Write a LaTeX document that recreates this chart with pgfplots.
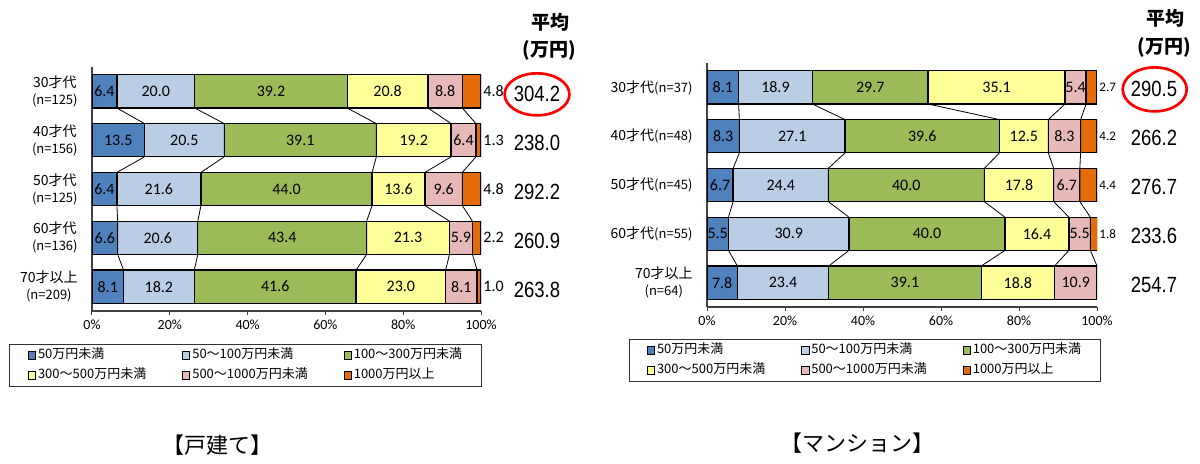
\documentclass[border=0pt]{standalone}
\usepackage{pgfplots}
\pgfplotsset{compat=1.18}
\usepackage{pgfplotstable}
\usepackage{fontspec}
\setmainfont{Carlito}
\newfontfamily\jp{Noto Sans CJK JP}
\newfontfamily\num[FakeStretch=0.84]{Liberation Sans}
\definecolor{c1}{RGB}{79,129,189}
\definecolor{c2}{RGB}{185,205,229}
\definecolor{c3}{RGB}{155,187,89}
\definecolor{c4}{RGB}{255,255,153}
\definecolor{c5}{RGB}{230,185,184}
\definecolor{c6}{RGB}{228,108,10}
\newcommand\nsz{\fontsize{6.5}{8.5}\selectfont}

% 戸建て
\pgfplotstableread{
row a b c d e f
4 6.4 20.0 39.2 20.8 8.8 4.8
3 13.5 20.5 39.1 19.2 6.4 1.3
2 6.4 21.6 44.0 13.6 9.6 4.8
1 6.6 20.6 43.4 21.3 5.9 2.2
0 8.1 18.2 41.6 23.0 8.1 1.0
}\houseData
% マンション
\pgfplotstableread{
row a b c d e f
4 8.1 18.9 29.7 35.1 5.4 2.7
3 8.3 27.1 39.6 12.5 8.3 4.2
2 6.7 24.4 40.0 17.8 6.7 4.4
1 5.5 30.9 40.0 16.4 5.5 1.8
0 7.8 23.4 39.1 18.8 10.9 0.0
}\mansionData

\pgfplotsset{
  /pgf/number format/assume math mode=true,
  seg/.style={fill=#1, draw=black, line width=0.65pt},
  base/.style={scale only axis, anchor=south west, xmin=0, xmax=100, ymin=-0.5, ymax=4.5,
     enlargelimits=false},
  barax/.style={base, xbar stacked, bar width=0.68,
     axis x line*=bottom, axis y line*=left,
     axis line style={black!75, line width=0.6pt},
     xtick={0,20,40,60,80,100},
     xticklabels={0\%,20\%,40\%,60\%,80\%,100\%},
     tick align=outside, major tick length=2pt,
     xtick style={black!75, line width=0.5pt},
     ytick={0,1,2,3,4}, ytick style={draw=none},
     xticklabel style={font=\fontsize{7}{8}\selectfont, inner sep=1pt, yshift=-1.5pt},
     yticklabel style={font=\jp\fontsize{7}{8.5}\selectfont, align=center, inner sep=0pt, xshift=-5pt},
     legend columns=3, legend cell align=left,
     legend image code/.code={\draw[##1,draw=black,line width=0.4pt] (0pt,-1.8pt) rectangle (3.6pt,1.8pt);},
     legend style={draw=none, fill=none, anchor=north west, inner sep=0pt, outer sep=0pt,
        font=\jp\fontsize{6.5}{7.5}\selectfont,
        nodes={inner xsep=1pt, inner ysep=1.5pt, text height=5pt, text depth=1.5pt},
        /tikz/every even column/.append style={column sep=17pt},
        row sep=0.5pt}},
  over/.style={base, hide axis, clip=false},
  sline/.style={black, line width=0.4pt},
  seglab/.style={draw=none, nodes near coords, point meta=explicit symbolic,
     every node near coord/.style={anchor=center, inner sep=0pt, font=\fontsize{8}{9}\selectfont}},
  outlab/.style={draw=none, nodes near coords, point meta=explicit symbolic,
     every node near coord/.style={anchor=west, inner sep=0pt, xshift=#1}},
  avg/.style={draw=none, nodes near coords, point meta=explicit symbolic,
     every node near coord/.style={anchor=center, inner sep=0pt, font=\num\fontsize{11}{13}\selectfont}}
}

\begin{document}
\begin{tikzpicture}
\useasboundingbox (0,0) rectangle (600pt,231.5pt);

% ---------------- 戸建て ----------------
\begin{axis}[barax, at={(46pt,76pt)}, width=194.5pt, height=122pt,
  yticklabels={{70才以上\\\nsz(n=209)},{60才代\\\nsz(n=136)},{50才代\\\nsz(n=125)},{40才代\\\nsz(n=156)},{30才代\\\nsz(n=125)}},
  legend style={at={(-0.1645,-0.1434)}}]
\addplot[seg=c1] table[x=a,y=row]{\houseData};
\addplot[seg=c2] table[x=b,y=row]{\houseData};
\addplot[seg=c3] table[x=c,y=row]{\houseData};
\addplot[seg=c4] table[x=d,y=row]{\houseData};
\addplot[seg=c5] table[x=e,y=row]{\houseData};
\addplot[seg=c6] table[x=f,y=row]{\houseData};
\legend{50万円未満,50～100万円未満,100～300万円未満,300～500万円未満,500～1000万円未満,1000万円以上}
\end{axis}
\begin{axis}[over, at={(46pt,76pt)}, width=194.5pt, height=122pt]
\addplot[sline] coordinates {(6.4,3.66) (13.5,3.34) (13.5,2.66) (6.4,2.34) (6.4,1.66) (6.6,1.34) (6.6,0.66) (8.1,0.34)};
\addplot[sline] coordinates {(26.4,3.66) (34.0,3.34) (34.0,2.66) (28.0,2.34) (28.0,1.66) (27.2,1.34) (27.2,0.66) (26.3,0.34)};
\addplot[sline] coordinates {(65.6,3.66) (73.1,3.34) (73.1,2.66) (72.0,2.34) (72.0,1.66) (70.6,1.34) (70.6,0.66) (67.9,0.34)};
\addplot[sline] coordinates {(86.4,3.66) (92.3,3.34) (92.3,2.66) (85.6,2.34) (85.6,1.66) (91.9,1.34) (91.9,0.66) (90.9,0.34)};
\addplot[sline] coordinates {(95.2,3.66) (98.7,3.34) (98.7,2.66) (95.2,2.34) (95.2,1.66) (97.8,1.34) (97.8,0.66) (99.0,0.34)};
% segment values, at the middle of each segment
\addplot[seglab] coordinates {
 (3.2,4)[6.4] (16.4,4)[20.0] (46.0,4)[39.2] (76.0,4)[20.8] (90.8,4)[8.8]
 (6.75,3)[13.5] (23.75,3)[20.5] (53.55,3)[39.1] (82.7,3)[19.2] (95.5,3)[6.4]
 (3.2,2)[6.4] (17.2,2)[21.6] (50.0,2)[44.0] (78.8,2)[13.6] (90.4,2)[9.6]
 (3.3,1)[6.6] (16.9,1)[20.6] (48.9,1)[43.4] (81.25,1)[21.3] (94.85,1)[5.9]
 (4.05,0)[8.1] (17.2,0)[18.2] (47.1,0)[41.6] (79.4,0)[23.0] (94.95,0)[8.1]};
% values of the 1000万円以上 segment
\addplot[outlab=1pt, every node near coord/.append style={font=\fontsize{8}{9}\selectfont}]
  coordinates {(100,4)[4.8] (100,3)[1.3] (100,2)[4.8] (100,1)[2.2] (100,0)[1.0]};
% averages
\addplot[avg] coordinates {(114.4,3.94)[304.2] (114.4,2.94)[238.0] (114.4,1.94)[292.2] (114.4,0.94)[260.9] (114.4,-0.06)[263.8]};
\draw[red, line width=1.35pt] (axis cs:114.4,3.94) ellipse [x radius=16.2pt, y radius=10.5pt];
\end{axis}
\draw[black!80, line width=0.5pt] (4.5pt,59.5pt) rectangle (240.5pt,38.5pt);
\node[font=\jp\bfseries\fontsize{9.5}{11}\selectfont, inner sep=0pt] at (275pt,220.5pt) {平均};
\node[font=\jp\bfseries\fontsize{9.5}{11}\selectfont, inner sep=0pt] at (274.5pt,206.5pt) {(万円)};
\node[font=\jp\fontsize{11}{13}\selectfont, inner sep=0pt] at (108.5pt,9pt) {【戸建て】};

% ---------------- マンション ----------------
\begin{axis}[barax, at={(353.5pt,78pt)}, width=195pt, height=122pt,
  yticklabels={{70才以上\\\nsz(n=64)},{60才代\nsz(n=55)},{50才代\nsz(n=45)},{40才代\nsz(n=48)},{30才代\nsz(n=37)}},
  legend style={at={(-0.1538,-0.139)}}]
\addplot[seg=c1] table[x=a,y=row]{\mansionData};
\addplot[seg=c2] table[x=b,y=row]{\mansionData};
\addplot[seg=c3] table[x=c,y=row]{\mansionData};
\addplot[seg=c4] table[x=d,y=row]{\mansionData};
\addplot[seg=c5] table[x=e,y=row]{\mansionData};
\addplot[seg=c6] table[x=f,y=row]{\mansionData};
\legend{50万円未満,50～100万円未満,100～300万円未満,300～500万円未満,500～1000万円未満,1000万円以上}
\end{axis}
\begin{axis}[over, at={(353.5pt,78pt)}, width=195pt, height=122pt]
\addplot[sline] coordinates {(8.1,3.66) (8.3,3.34) (8.3,2.66) (6.7,2.34) (6.7,1.66) (5.5,1.34) (5.5,0.66) (7.8,0.34)};
\addplot[sline] coordinates {(27.0,3.66) (35.4,3.34) (35.4,2.66) (31.1,2.34) (31.1,1.66) (36.4,1.34) (36.4,0.66) (31.2,0.34)};
\addplot[sline] coordinates {(56.7,3.66) (75.0,3.34) (75.0,2.66) (71.1,2.34) (71.1,1.66) (76.4,1.34) (76.4,0.66) (70.3,0.34)};
\addplot[sline] coordinates {(91.8,3.66) (87.5,3.34) (87.5,2.66) (88.9,2.34) (88.9,1.66) (92.8,1.34) (92.8,0.66) (89.1,0.34)};
\addplot[sline] coordinates {(97.2,3.66) (95.8,3.34) (95.8,2.66) (95.6,2.34) (95.6,1.66) (98.3,1.34) (98.3,0.66) (100.0,0.34)};
\addplot[seglab] coordinates {
 (4.05,4)[8.1] (17.55,4)[18.9] (41.85,4)[29.7] (74.25,4)[35.1] (94.5,4)[5.4]
 (4.15,3)[8.3] (21.85,3)[27.1] (55.2,3)[39.6] (81.25,3)[12.5] (91.65,3)[8.3]
 (3.35,2)[6.7] (18.9,2)[24.4] (51.1,2)[40.0] (80.0,2)[17.8] (92.25,2)[6.7]
 (2.75,1)[5.5] (20.95,1)[30.9] (56.4,1)[40.0] (84.6,1)[16.4] (95.55,1)[5.5]
 (3.9,0)[7.8] (19.5,0)[23.4] (50.75,0)[39.1] (79.7,0)[18.8] (94.55,0)[10.9]};
\addplot[outlab=1pt, every node near coord/.append style={font=\fontsize{6.5}{8}\selectfont}]
  coordinates {(100,4)[2.7] (100,3)[4.2] (100,2)[4.4] (100,1)[1.8]};
\addplot[avg] coordinates {(114.6,3.96)[290.5] (114.6,2.96)[266.2] (114.6,1.96)[276.7] (114.6,0.96)[233.6] (114.6,-0.04)[254.7]};
\draw[red, line width=1.35pt] (axis cs:114.8,3.96) ellipse [x radius=16pt, y radius=11pt];
\end{axis}
\draw[black!80, line width=0.5pt] (314.5pt,62pt) rectangle (550pt,41pt);
\node[font=\jp\bfseries\fontsize{9.5}{11}\selectfont, inner sep=0pt] at (582.5pt,222.5pt) {平均};
\node[font=\jp\bfseries\fontsize{9.5}{11}\selectfont, inner sep=0pt] at (582pt,208pt) {(万円)};
\node[font=\jp\fontsize{11}{13}\selectfont, inner sep=0pt] at (428.5pt,10pt) {【マンション】};
\end{tikzpicture}
\end{document}
